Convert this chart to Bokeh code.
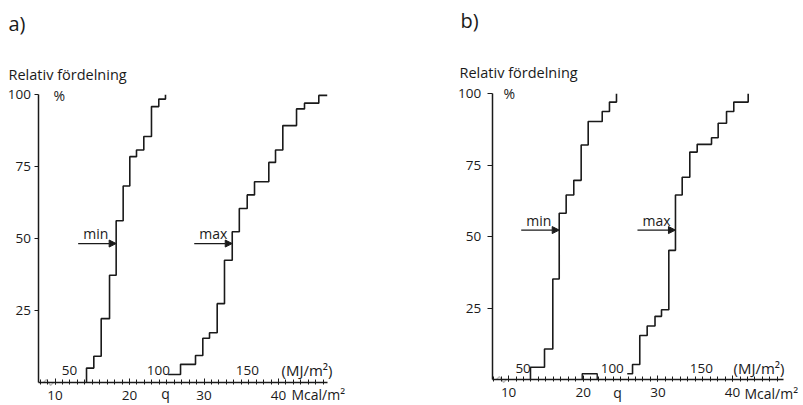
from bokeh.plotting import figure
from bokeh.models import Range1d, FixedTicker, Label, Arrow, NormalHead, PolyAnnotation
from bokeh.layouts import row
from bokeh.embed import file_html
from bokeh.resources import INLINE

MJ_PER_MCAL = 4.1868

# ---- ticks / labels ----
pct_ticks = [25, 50, 75, 100]
mcal_ticks = [10, 20, 30, 40]
mcal_minor = list(range(8, 47))
mj_ticks = [50, 100, 150]

# ---- panel a (q in Mcal/m2, cumulative %) ----
a_min_q = [14.23, 15.21, 16.20, 17.32, 18.21, 19.15, 20.04, 20.94, 21.92, 22.95, 23.93, 24.83]
a_min_pct = [5.0, 9.1, 22.2, 37.3, 56.2, 68.3, 78.5, 80.8, 85.5, 95.9, 98.5, 100.0]
a_max_q = [25.19, 26.85, 28.86, 29.84, 30.74, 31.77, 32.75, 33.79, 34.74, 35.80, 36.78,
           38.70, 39.60, 40.58, 42.42, 43.49, 45.41]
a_max_pct = [2.8, 6.3, 9.4, 15.4, 17.3, 27.4, 42.5, 52.4, 60.5, 65.2, 69.8,
             76.5, 80.8, 89.3, 95.1, 97.1, 99.8]
a_max_end = 46.54

# ---- panel b ----
b_min_q = [12.93, 14.81, 15.92, 16.78, 17.71, 18.73, 19.72, 20.66, 22.54, 23.51, 24.45]
b_min_pct = [4.3, 10.7, 35.2, 58.2, 64.6, 69.7, 82.1, 90.3, 93.8, 97.1, 100.0]
b_max_q = [25.89, 26.60, 27.57, 28.56, 29.61, 30.48, 31.46, 32.35, 33.25, 34.27, 35.26,
           37.18, 38.07, 39.19, 40.16, 42.09]
b_max_pct = [2.0, 5.25, 15.4, 18.7, 22.1, 24.4, 45.2, 64.6, 70.8, 79.6, 82.3,
             84.6, 89.7, 93.8, 97.1, 100.0]
b_extra_q = [19.86, 21.87]
b_extra_pct = 2.0

arrow_pct = {"a": 48.3, "b": 52.3}

FONT = "Open Sans"
INK = "#1a1a1a"
H = 405


def stairs(q, pct, from_zero, end=None):
    xs, ys = list(q), list(pct)
    if from_zero:
        xs = [q[0]] + xs
        ys = [0.0] + ys
    if end is not None:
        xs.append(end)
        ys.append(ys[-1])
    return xs, ys


def crossing(q, pct, level):
    for x, y in zip(q, pct):
        if y > level:
            return x
    return q[-1]


def make_panel(g):
    # page-pixel -> data mapping of this panel (linear scales)
    def X(px):
        return 10 + (px - g["px10"]) / g["kx"]

    def Y(py):
        return (g["y0"] - py) / g["ky"]

    left, width = g["left"], g["width"]
    p = figure(width=width, height=H, title=None,
               x_range=Range1d(X(left), X(left + width)), y_range=Range1d(Y(H), Y(0)),
               min_border=0, min_border_left=0, min_border_right=0,
               min_border_top=0, min_border_bottom=0,
               toolbar_location=None, output_backend="svg")
    p.xgrid.visible = False
    p.ygrid.visible = False
    p.outline_line_color = None
    p.background_fill_color = "white"
    p.border_fill_color = "white"

    x_axis_pos = X(g["yaxis_px"])

    xa = p.xaxis[0]
    xa.fixed_location = 0
    xa.ticker = FixedTicker(ticks=mcal_ticks, minor_ticks=mcal_minor)
    xa.bounds = (x_axis_pos, g["x_end"])
    xa.axis_line_color = INK
    xa.axis_line_width = 1.5
    xa.major_tick_line_color = INK
    xa.major_tick_line_width = 1.0
    xa.major_tick_in = 4
    xa.major_tick_out = 2
    xa.minor_tick_line_color = INK
    xa.minor_tick_line_width = 1.0
    xa.minor_tick_in = 3
    xa.minor_tick_out = 2
    xa.major_label_standoff = g["xstand"]
    xa.major_label_text_font = FONT
    xa.major_label_text_font_size = "13.5px"
    xa.major_label_text_color = INK

    ya = p.yaxis[0]
    ya.fixed_location = x_axis_pos
    ya.ticker = FixedTicker(ticks=pct_ticks, minor_ticks=[])
    ya.bounds = (0, 100)
    ya.axis_line_color = INK
    ya.axis_line_width = 1.5
    ya.major_tick_line_color = INK
    ya.major_tick_line_width = 1.2
    ya.major_tick_in = 0
    ya.major_tick_out = g["ytick"]
    ya.minor_tick_line_color = None
    ya.major_label_standoff = g["ystand"]
    ya.major_label_text_font = FONT
    ya.major_label_text_font_size = "13.5px"
    ya.major_label_text_color = INK

    def lab(text, x, base_py, size=14, align="left"):
        # place by visual middle of the text box; base_py = wanted baseline (page px)
        p.add_layout(Label(x=x, y=Y(base_py - 0.36 * size), text=text, text_font=FONT,
                           text_font_size=f"{size}px", text_color=INK,
                           text_align=align, text_baseline="middle"))

    # curves
    for q, pct, fz, end in g["series"]:
        xs, ys = stairs(q, pct, fz, end)
        p.step(xs, ys, mode="after", line_color=INK, line_width=1.6)

    if g.get("extra"):
        eq, ep = g["extra"]
        p.step([eq[0], eq[0], eq[1], eq[1]], [0, ep, ep, 0], mode="after",
               line_color=INK, line_width=1.4)

    # arrows min / max
    ay = arrow_pct[g["tag"]]
    ay_px = g["y0"] - ay * g["ky"]
    alen = 38 / g["kx"]
    for (q, pct, fz, end), name in zip(g["series"], ["min", "max"]):
        tip = crossing(q, pct, ay)
        p.add_layout(Arrow(end=NormalHead(size=7, fill_color=INK, line_color=INK, line_width=1),
                           x_start=tip - alen, y_start=ay, x_end=tip, y_end=ay,
                           line_color=INK, line_width=1.3))
        lab(name, tip - alen + 5 / g["kx"], ay_px - 5)

    # axis break mark
    bx = X(g["brk"])
    p.add_layout(PolyAnnotation(xs=[bx, bx + 3 / g["kx"], bx + 7 / g["kx"], bx + 10 / g["kx"]],
                                ys=[0, 3 / g["ky"], -3 / g["ky"], 0],
                                fill_alpha=0, line_color=INK, line_width=1.2))

    # MJ/m2 secondary scale labels (above the axis)
    for mj in mj_ticks:
        lab(str(mj), mj / MJ_PER_MCAL, g["mj_base"], size=13.5, align="center")
    lab("(MJ/m²)", X(g["mj_unit_x"]), g["mj_base"], size=15)

    # q and unit below the axis
    lab("q", X(g["q_x"]), g["q_base"], align="center")
    lab("Mcal/m²", X(g["unit_x"]), g["unit_base"], size=14)

    # headers
    lab(g["tag"] + ")", X(g["tag_x"]), g["tag_base"], size=20)
    lab("Relativ fördelning", X(g["head_x"]), g["rel_base"], size=14.5)
    lab("%", X(g["pct_x"]), g["pct_base"])
    return p


geo_a = dict(tag="a", left=0, width=440, px10=54.5, kx=7.45, y0=382, ky=2.877,
             yaxis_px=37.5, x_end=46.58, ytick=4, ystand=3, xstand=6,
             series=[(a_min_q, a_min_pct, True, None), (a_max_q, a_max_pct, False, a_max_end)],
             extra=None, brk=43, mj_base=375, mj_unit_x=281,
             q_x=165, q_base=398, unit_x=291, unit_base=399,
             tag_x=8, tag_base=30, head_x=8, rel_base=79, pct_x=53, pct_base=100)

geo_b = dict(tag="b", left=440, width=363, px10=508.1, kx=7.466, y0=379, ky=2.857,
             yaxis_px=491.7, x_end=46.86, ytick=5, ystand=6, xstand=6,
             series=[(b_min_q, b_min_pct, True, None), (b_max_q, b_max_pct, False, None)],
             extra=(b_extra_q, b_extra_pct), brk=496, mj_base=373, mj_unit_x=733,
             q_x=617, q_base=397, unit_x=744, unit_base=398,
             tag_x=460, tag_base=27, head_x=459, rel_base=77, pct_x=503, pct_base=98)

pa = make_panel(geo_a)
pb = make_panel(geo_b)
layout = row(pa, pb)

open("out.html", "w").write(file_html(layout, INLINE))
